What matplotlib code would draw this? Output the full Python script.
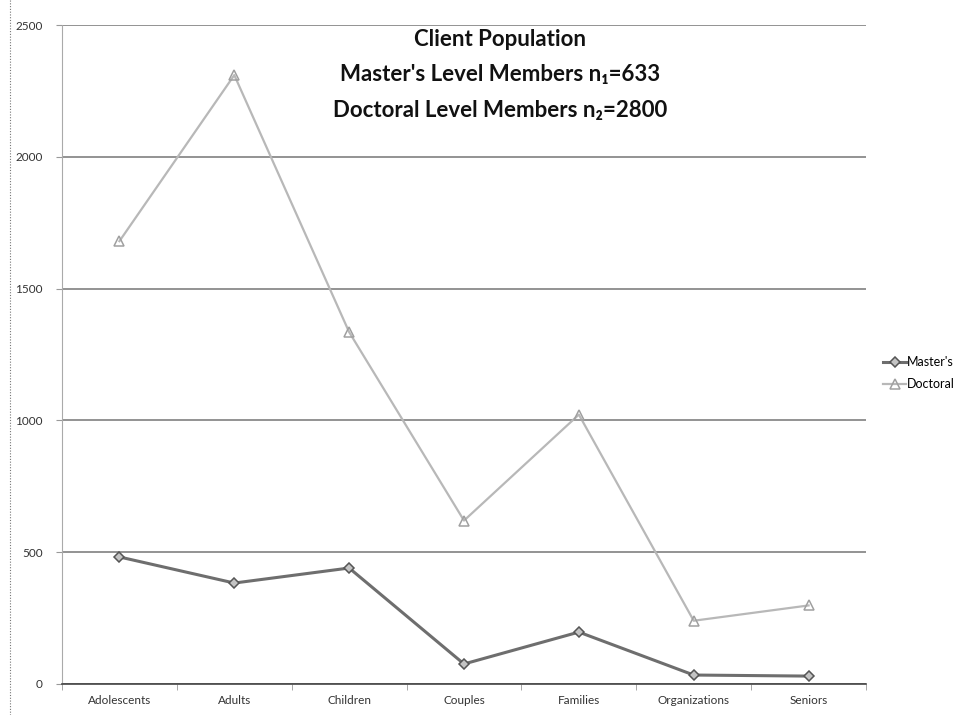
import matplotlib
matplotlib.use("Agg")
import matplotlib.pyplot as plt
from matplotlib.lines import Line2D

categories = ["Adolescents", "Adults", "Children", "Couples", "Families", "Organizations", "Seniors"]
masters = [482, 383, 440, 76, 197, 34, 30]
doctoral = [1680, 2310, 1335, 620, 1022, 240, 298]
y_ticks = [0, 500, 1000, 1500, 2000, 2500]
title_lines = ["Client Population",
               "Master's Level Members n\u2081=633",
               "Doctoral Level Members n\u2082=2800"]

plt.rcParams['font.family'] = ['Lato', 'DejaVu Sans']

fig = plt.figure(figsize=(9.73, 7.15), dpi=100)
ax = fig.add_axes([62 / 973, 1 - 684 / 715, (866 - 62) / 973, (684 - 25) / 715])

x = list(range(len(categories)))
ax.plot(x, doctoral, color="#b8b8b8", lw=1.6, marker="^", ms=7,
        mfc="none", mec="#a0a0a0", mew=1.1, zorder=3, label="Doctoral")
ax.plot(x, masters, color="#6e6e6e", lw=2.2, marker="D", ms=5.5,
        mfc="#c4c4c4", mec="#555555", mew=1.1, zorder=4, label="Master's")

ax.set_xlim(-0.5, len(categories) - 0.5)
ax.set_ylim(0, 2500)
ax.set_yticks(y_ticks)
ax.set_yticklabels([str(v) for v in y_ticks], fontsize=8.5, color="#333333")
ax.set_xticks(x)
ax.set_xticklabels(categories, fontsize=8.5, color="#333333")
ax.tick_params(axis="x", length=0, pad=8)
ax.tick_params(axis="y", length=4, color="#999999", pad=10)
ax.set_xticks([i + 0.5 for i in range(-1, len(categories))], minor=True)
ax.tick_params(axis="x", which="minor", length=4, color="#999999")

ax.yaxis.grid(True, color="#8a8a8a", lw=1.3)
ax.set_axisbelow(True)
for s in ["top", "right"]:
    ax.spines[s].set_visible(False)
ax.spines["left"].set_color("#aaaaaa")
ax.spines["left"].set_linestyle((0, (1, 1)))
ax.spines["bottom"].set_color("#444444")
ax.spines["bottom"].set_linewidth(1.2)

for i, line in enumerate(title_lines):
    fig.text(500 / 973, 1 - (39 + i * 36) / 715, line, ha="center", va="center",
             fontsize=16, fontweight="bold", color="#111111")

handles = [Line2D([], [], color="#6e6e6e", lw=2.2, marker="D", ms=5.5,
                  mfc="#c4c4c4", mec="#555555", mew=1.1),
           Line2D([], [], color="#b8b8b8", lw=1.6, marker="^", ms=7,
                  mfc="none", mec="#a0a0a0", mew=1.1)]
fig.legend(handles, ["Master's", "Doctoral"], loc="center left",
           bbox_to_anchor=(872 / 973, 1 - 373 / 715), frameon=False,
           fontsize=9, handlelength=1.8, handletextpad=0.1, labelspacing=0.8)

fig.add_artist(Line2D([10 / 973, 10 / 973], [0, 1], transform=fig.transFigure,
                      color="#777777", lw=0.8, ls=(0, (1, 1.5))))

fig.savefig("out.png", dpi=100)
